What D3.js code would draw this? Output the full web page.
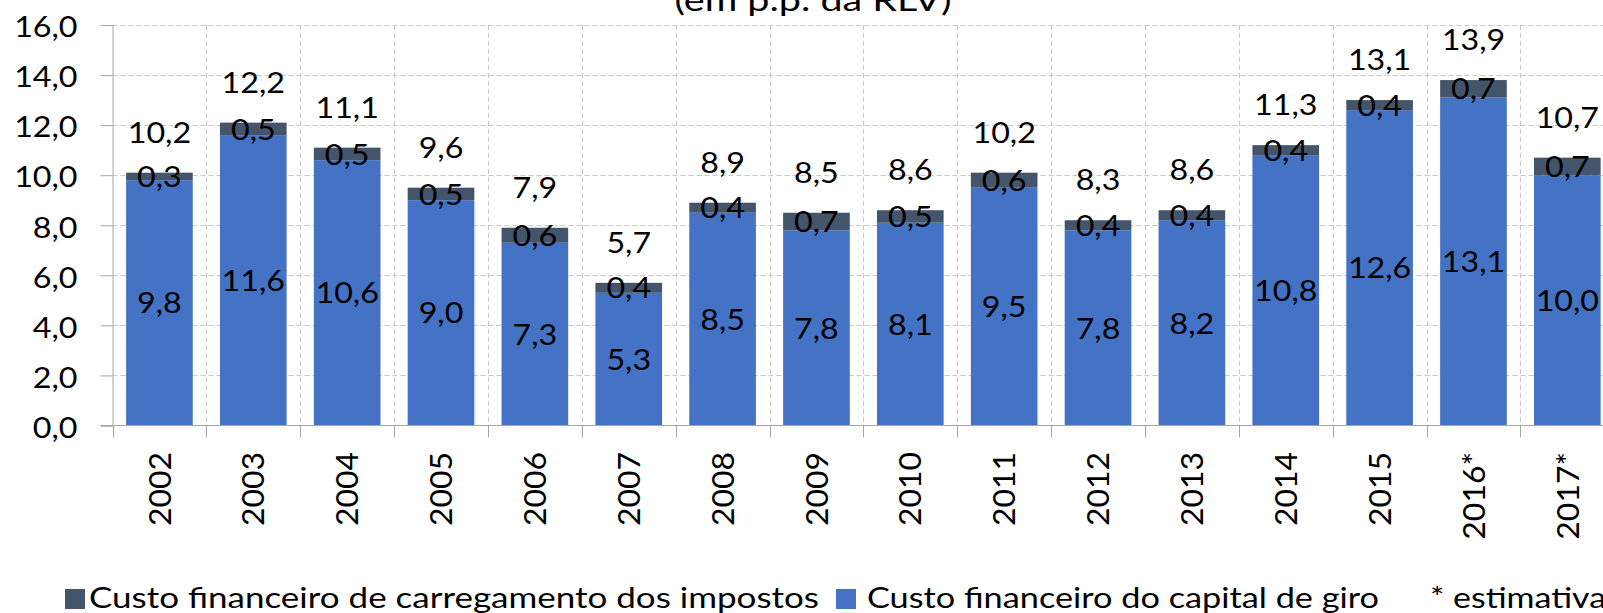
<!DOCTYPE html>
<html>
<head>
<meta charset="utf-8">
<script src="https://cdn.jsdelivr.net/npm/d3@7"></script>
<style>
  html, body { margin: 0; padding: 0; background: #fff; overflow: hidden; }
  svg { display: block; }
  text { font-family: "Lato", "Open Sans", sans-serif; fill: #000; }
</style>
</head>
<body>
<svg id="chart" width="1603" height="613"></svg>
<script>
// ---- Data ----
const categories = ["2002","2003","2004","2005","2006","2007","2008","2009","2010","2011","2012","2013","2014","2015","2016*","2017*"];
const capitalGiro = [9.8, 11.6, 10.6, 9.0, 7.3, 5.3, 8.5, 7.8, 8.1, 9.5, 7.8, 8.2, 10.8, 12.6, 13.1, 10.0];
const carregamentoImpostos = [0.3, 0.5, 0.5, 0.5, 0.6, 0.4, 0.4, 0.7, 0.5, 0.6, 0.4, 0.4, 0.4, 0.4, 0.7, 0.7];
const totals = [10.2, 12.2, 11.1, 9.6, 7.9, 5.7, 8.9, 8.5, 8.6, 10.2, 8.3, 8.6, 11.3, 13.1, 13.9, 10.7];
const yTicks = [0, 2, 4, 6, 8, 10, 12, 14, 16];
const seriesNames = ["Custo financeiro de carregamento dos impostos", "Custo financeiro do capital de giro"];
const titleText = "(em p.p. da RLV)";
const noteText = "* estimativa";

(function draw() {
// ---- Layout ----
const colorBlue = "#4472C4", colorDark = "#44546A";
const plotLeft = 112.5, plotTop = 25, plotBottom = 425.5;
const step = 93.86;
const plotRight = plotLeft + step * categories.length;
const fmt = v => d3.format(".1f")(v).replace(".", ",");
// widen glyphs horizontally (reference font is wider than the installed ones)
const stretch = (sel, k) => sel.each(function () {
  const L = this.getComputedTextLength();
  d3.select(this).attr("textLength", L * k).attr("lengthAdjust", "spacingAndGlyphs");
});
const fitWidth = (sel, w) => sel.attr("textLength", w).attr("lengthAdjust", "spacingAndGlyphs");

const svg = d3.select("#chart");

const x = d3.scaleBand().domain(categories).range([plotLeft, plotRight]).paddingInner(0.29).paddingOuter(0.145);
const y = d3.scaleLinear().domain([0, 16]).range([plotBottom, plotTop]);

const rows = categories.map((c, i) => ({ cat: c, blue: capitalGiro[i], dark: carregamentoImpostos[i], total: totals[i] }));
const stack = d3.stack().keys(["blue", "dark"])(rows);
const boundary = i => Math.round(plotLeft + i * x.step()) + 0.5;

// gridlines
const grid = svg.append("g").attr("stroke", "#C8C8C8").attr("stroke-dasharray", "5,3").attr("stroke-width", 1);
grid.selectAll("line.h").data(yTicks.filter(t => t > 0)).join("line").attr("class", "h")
  .attr("x1", plotLeft).attr("x2", plotRight).attr("y1", d => Math.round(y(d)) + 0.5).attr("y2", d => Math.round(y(d)) + 0.5);
grid.selectAll("line.v").data(d3.range(1, categories.length + 1)).join("line").attr("class", "v")
  .attr("x1", boundary).attr("x2", boundary)
  .attr("y1", plotTop).attr("y2", plotBottom);

// bars
svg.append("g").selectAll("g").data(stack).join("g")
  .attr("fill", d => d.key === "blue" ? colorBlue : colorDark)
  .selectAll("rect").data(d => d).join("rect")
  .attr("x", d => x(d.data.cat))
  .attr("width", x.bandwidth())
  .attr("y", d => y(d[1]))
  .attr("height", d => y(d[0]) - y(d[1]));

// y axis
const yAxis = svg.append("g").attr("transform", `translate(${plotLeft},0)`)
  .call(d3.axisLeft(y).tickValues(yTicks).tickSize(12).tickPadding(23).tickFormat(fmt));
yAxis.select(".domain").attr("stroke", "#A6A6A6");
yAxis.selectAll(".tick line").attr("stroke", "#A6A6A6");
yAxis.selectAll(".tick text").attr("font-size", 28).attr("font-family", "Lato").attr("fill", "#000").attr("dy", "0.42em")
  .call(stretch, 1.15);

// x axis baseline and boundary ticks
svg.append("line").attr("x1", plotLeft - 12).attr("x2", plotRight).attr("y1", plotBottom).attr("y2", plotBottom).attr("stroke", "#A6A6A6");
svg.append("g").selectAll("line").data(d3.range(categories.length + 1)).join("line")
  .attr("x1", boundary).attr("x2", boundary)
  .attr("y1", plotBottom).attr("y2", plotBottom + 12).attr("stroke", "#A6A6A6");

// x labels rotated
svg.append("g").selectAll("text").data(categories).join("text")
  .attr("transform", d => `translate(${x(d) + x.bandwidth() / 2},452) rotate(-90)`)
  .attr("text-anchor", "end").attr("dy", "0.36em")
  .attr("font-size", 31).text(d => d)
  .call(stretch, 1.03);

// data labels
const lbl = svg.append("g").attr("font-size", 28).attr("text-anchor", "middle");
lbl.selectAll("text.b").data(rows).join("text").attr("class", "b")
  .attr("x", d => x(d.cat) + x.bandwidth() / 2)
  .attr("y", d => y(d.blue / 2)).attr("dy", "0.38em").text(d => fmt(d.blue))
  .call(stretch, 1.15);
lbl.selectAll("text.d").data(rows).join("text").attr("class", "d")
  .attr("x", d => x(d.cat) + x.bandwidth() / 2)
  .attr("y", d => y(d.blue + d.dark / 2)).attr("dy", "0.38em").text(d => fmt(d.dark))
  .call(stretch, 1.15);
lbl.selectAll("text.t").data(rows).join("text").attr("class", "t")
  .attr("x", d => x(d.cat) + x.bandwidth() / 2)
  .attr("y", d => y(d.blue + d.dark) - 30).text(d => fmt(d.total))
  .call(stretch, 1.15);

// title (cropped at top, as in the reference)
svg.append("text").attr("x", 813).attr("y", 11).attr("text-anchor", "middle").attr("font-size", 30).text(titleText)
  .call(fitWidth, 277);

// legend
const lg = svg.append("g").attr("font-size", 29);
lg.append("rect").attr("x", 65).attr("y", 589).attr("width", 20).attr("height", 20).attr("fill", colorDark);
lg.append("text").attr("x", 89).attr("y", 608).text(seriesNames[0]).call(fitWidth, 730);
lg.append("rect").attr("x", 836).attr("y", 589).attr("width", 20).attr("height", 20).attr("fill", colorBlue);
lg.append("text").attr("x", 867).attr("y", 608).text(seriesNames[1]).call(fitWidth, 512);
lg.append("text").attr("x", 1430).attr("y", 608).text(noteText).call(stretch, 1.17);
})();
</script>
</body>
</html>
